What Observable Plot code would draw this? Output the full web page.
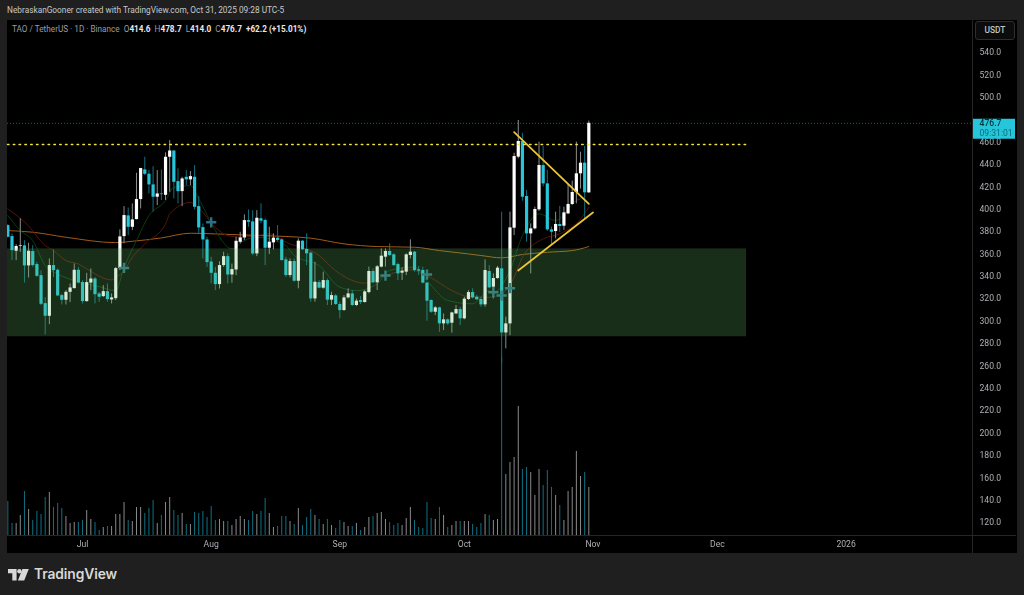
<!DOCTYPE html>
<html><head><meta charset="utf-8">
<script src="https://cdn.jsdelivr.net/npm/d3@7"></script>
<script src="https://cdn.jsdelivr.net/npm/@observablehq/plot@0.6"></script>
<style>
html,body{margin:0;padding:0;background:#1f1f1f;width:1024px;height:595px;overflow:hidden;font-family:Roboto,sans-serif}
#panel{position:absolute;left:7px;top:20px;width:1010px;height:533px;background:#000}
#chart{position:absolute;left:0;top:0;filter:blur(.35px)}
#credit{position:absolute;left:7px;top:4px;font-size:8.3px;line-height:12px;color:#c8c8c8;white-space:nowrap}
#legend{position:absolute;left:12px;top:23px;font-size:8.2px;line-height:12px;color:#9a9da5;white-space:nowrap}
#legend b{color:#e8e8e8;font-weight:700}
#unit{position:absolute;left:975px;top:21px;width:38px;height:17px;border:1px solid #2e2e2e;border-radius:3px;background:#0c0c0c;color:#c4c4c4;font-size:8.4px;font-weight:500;line-height:17px;text-align:center}
#brand{position:absolute;left:8px;top:566px;display:flex;align-items:center;gap:5px;color:#d9d9d9;font-family:Inter,sans-serif;font-size:13.8px;font-weight:600;letter-spacing:-.1px;line-height:17px}
</style></head><body>
<div id="panel"></div>
<div id="chart"></div>
<div id="credit">NebraskanGooner created with TradingView.com, Oct 31, 2025 09:28 UTC-5</div>
<div id="legend">TAO / TetherUS · 1D · Binance &nbsp;O<b>414.6</b> &nbsp;H<b>478.7</b> &nbsp;L<b>414.0</b> &nbsp;C<b>476.7</b> &nbsp;<b>+62.2 (+15.01%)</b></div>
<div id="unit">USDT</div>
<div id="brand"><svg width="21" height="12" viewBox="0 0 21 12"><path fill="#d9d9d9" d="M0 0h8.6v11.4H4.3V4.3H0zM14.4 0h6.4l-4.6 11.4H9.9z"/><circle fill="#d9d9d9" cx="11.4" cy="2.2" r="2.2"/></svg><span>TradingView</span></div>
<script>
const firstDay = "2025-06-13";
const opens = [385.3,375.5,362.4,366.6,367.2,349.3,362.1,350.5,340.6,315.6,304.3,349.6,345.4,322.8,318.6,325.7,329,345.4,334.4,317.4,334,337.6,324.2,321.9,326.3,318.9,320.1,346.9,375.5,394,383.8,390.7,408.6,435.1,431.2,421.7,410.7,413.6,412.4,446.4,452,424.6,415.7,428.5,426.2,428.5,402.3,383.5,372.5,352.8,342.7,332.6,349.6,357.6,341.2,345.7,370.4,374.3,389.8,388.6,360,391.4,389.9,365.1,369.9,374.1,372.6,354.7,340.7,353.2,335.6,371.4,364,360.7,319.8,334.4,329.4,336.2,318.7,322.5,314.8,309.4,320.7,324.3,313.9,318.4,316.6,325.5,344.3,334.2,348.2,357.1,362.2,359.2,350.5,342.8,343.7,358.6,361.6,345.8,345.2,333.9,318.4,307.9,311.8,297.5,301.1,298.1,306.4,310.3,302,319.3,325.5,321.3,319.3,314.5,344.3,330.3,338,346.7,289.4,297.5,383,446.5,460.5,411.3,377.9,382.4,399.4,439,422.6,381.5,380,386.3,384.8,395.8,404.2,414.9,431.6,441.1,414.6];
const highs = [386.2,377.9,368.3,391.3,371.9,369.5,367.4,352.5,345,321,355.5,363.6,346.6,324,327.2,333.2,351,348,336,342.7,346.6,339,325.7,331.7,333.2,324.2,348,381.5,402.3,401,404.7,432.1,436.5,446.4,434.5,438,434.5,435,450.3,461.3,452,436,428.5,434.5,433.6,439,411.2,386.8,374.9,357,348,353.1,361.5,360,351,374.9,379.4,394.9,399.3,398.7,398.7,404.8,391.4,383.9,378,385.4,373.5,357,355.6,355.6,373.5,372,378,361.6,352.6,336.2,343.7,337.7,325.8,323.7,316.9,322.8,328.8,327.3,319.8,321.9,327.3,348.2,346.7,349.6,364.5,364.5,369,360.1,351.7,347.6,360.1,372.6,362.2,348.8,348.2,334.7,319,313,312.4,306.4,302,307.9,313.9,312.4,321.3,327.3,328.8,322.8,321.3,354.7,349.6,342.2,348.8,397.3,303.5,397.3,450,479.3,467.9,416.7,386.9,401.8,459.9,456,434.6,384,397.3,402.4,401.8,422,425,459.9,450.9,456,478.7];
const lows = [374.3,354,354,361.5,334,338.5,348.1,339.1,313.8,287.6,296.8,339,321.9,314.4,314.4,316.5,328.7,333.2,315.3,316.8,327.2,315.3,316.8,321,316.8,315.3,318.3,345.1,369,376.4,380.9,390.4,400.2,430,413.6,397.3,403.2,407.7,407.7,415.1,409.2,404.7,402.3,421,421,399.3,377.9,355.5,348,333.2,327.2,328.7,348,333.2,333.8,340.6,369,371.9,383.8,358.5,357.6,386.9,349.6,359.5,363.7,370.5,353.5,339,338.6,334.7,328.8,363.1,349.6,316.9,316.9,328.8,328.5,313.9,313.9,313.9,302,308.8,319.8,313,313,314.8,316,324.3,333.3,327.3,347.6,348.2,357.7,348.7,336.2,336.2,340.7,355.6,343.7,340.7,333.3,299.9,307,304.9,290,291.5,296,289.2,305.8,296,301.1,318.4,319.8,318.4,312.4,312.4,328.8,319.8,337.4,262,275.2,287,376.4,445,407.1,370.5,342.2,381.5,398,420,380,367.5,373.5,379,381,395.2,403.3,404.8,418,391.3,414];
const closes = [374.9,363,366.6,367.2,349.3,362.4,349.6,340,315,304.3,349.6,345.1,322.5,318.6,325.7,329.6,345.4,334,317.4,334.4,337.6,323.6,321.3,326.3,319.2,320.7,346.9,375.2,394.3,383.8,390.4,408.6,436.3,431.2,421.7,410.7,413.6,413,446.4,452,424,415.7,427,426.2,429.1,401.7,383.2,372.5,352.3,342.7,332.6,349.6,357.6,341.2,346,371.3,374.3,389.8,388.3,360,391.9,389.3,365.1,370.5,374.1,372,354.1,340.7,353.2,335.6,371.4,363.7,360.1,319.8,334.7,329.4,336.2,318.7,322.8,314.8,309.4,320.7,324.3,313.9,317.8,316.6,326.1,344.3,334.2,348.5,358,362.2,358.6,349.6,342.2,344.6,359.2,361.6,345.2,344.6,333.9,317.8,307.9,311.8,297.5,301.1,297.5,307.3,310.3,302,319.6,325.5,320.7,319,314.5,345.2,329.7,338,347.3,289.4,297.5,383.3,447,460.5,410.7,377.9,382.4,399.7,439,422.6,381.5,379.4,386.3,384.5,396.7,404.2,414.9,431.6,441.1,414.6,476.7];
const volumes = [34,12,12,20,44,26,15,24,21,38,43,28,32,27,19,12,13,13,15,25,16,13,5,8,9,9,21,21,33,15,14,28,28,22,27,35,12,20,33,38,25,20,22,11,11,23,22,24,18,29,15,16,14,14,10,16,19,16,15,24,21,24,37,22,8,9,19,19,14,11,27,10,18,26,20,16,11,16,10,7,15,13,9,9,12,5,8,18,19,22,23,16,13,10,12,10,17,28,15,8,7,33,17,16,28,20,8,10,14,14,14,14,11,8,12,21,20,15,16,178,61,73,78,129,66,68,63,40,66,50,65,48,40,30,15,44,48,84,59,63,48];

const slowMaDays = [0,6,14,26,30,37,44,50,61,67,73,81,89,98,104,111,114,119,124,130,136,140];
const slowMaValues = [380.9,379.4,374.9,370.1,371.3,374.3,378.5,377.9,376.4,375.6,374.1,369,366.6,366,363,360,358.6,356.5,359.5,361.5,363,366.6];
const midMaDays = [0,5,9,11,14,17,19,25,26,28,30,33,38,39,44,46,50,53,56,60,63,67,75,79,86,91,97,102,107,111,116,119,122,124,129,133,138,140];
const midMaValues = [400.2,385,367.5,363,354,351,346.6,336.8,339,345,357,369,386.8,395.8,406,401,383.8,376.4,375,376.4,378,370.5,358.6,345,333.9,340.7,345.8,338.6,327.3,321.9,321.3,324.3,339.2,357,373.5,377.9,391.3,401.8];
const fastMaDays = [0,3,6,9,12,16,22,26,28,31,34,38,40,44,46,50,54,57,60,67,69,75,80,84,89,92,98,101,106,112,116,117,121,124,128,132,137,139];
const fastMaValues = [394.3,380.9,371.9,349.6,342.1,336.2,330.8,327.2,348,371.9,394.3,407.7,419.6,421,409.2,380.9,364.5,371.9,374.9,367.5,358.6,349.6,330.3,327.3,333.3,345.2,348.2,336.2,318.4,315.4,327.3,325.8,345.2,376.4,395.8,389.9,407.7,410.7];

const crossDays = [28,49,91,101,117,119,121];
const crossPrices = [347.5,388.3,340.7,341.6,325.8,322.8,329.4];

const zoneLow = 286, zoneHigh = 364.5, zoneEnd = "2025-12-08";
const resistance = 457.8;
const fallingDates = ["2025-10-13","2025-10-31"], fallingPrices = [468.8,404.8];
const risingDates = ["2025-10-14","2025-11-01"], risingPrices = [345.2,397];

const priceTicks = [120,140,160,180,200,220,240,260,280,300,320,340,360,380,400,420,440,460,500,520,540];
const monthTicks = ["2025-07-01","2025-08-01","2025-09-01","2025-10-01","2025-11-01","2025-12-01","2026-01-01"];
const monthLabels = ["Jul","Aug","Sep","Oct","Nov","Dec","2026"];

const start = new Date(firstDay + "T00:00Z");
const dayOf = i => d3.utcDay.offset(start, i);
const iso = s => new Date(s + "T00:00Z");
const candles = opens.map((o, i) => ({date: dayOf(i), open: o, high: highs[i], low: lows[i], close: closes[i], volume: volumes[i], up: closes[i] >= o}));
const series = (days, vals) => days.map((d, i) => ({date: dayOf(d), value: vals[i]}));

const yDomain = [108.4, 568.6];
const xDomain = [new Date("2025-06-12T22:00Z"), new Date("2026-01-31T11:00Z")];
const volumePrice = d3.scaleLinear([0, 200], [yDomain[0], yDomain[0] + 200 / 1.119]);
const lastClose = closes[closes.length - 1];
const axisGrey = "#aeb0b6", cyan = "#26c6da";
const labelOf = d => monthLabels[monthTicks.findIndex(m => +iso(m) === +d)];

const chart = Plot.plot({
  width: 1024, height: 595,
  marginLeft: 7, marginRight: 52, marginTop: 20, marginBottom: 60,
  style: {background: "transparent", fontFamily: "Roboto, sans-serif"},
  x: {type: "utc", domain: xDomain},
  y: {domain: yDomain},
  marks: [
    Plot.ruleY([lastClose], {stroke: "#14606e", strokeDasharray: "1,2"}),
    Plot.ruleX(candles, {x: "date", y1: yDomain[0], y2: d => volumePrice(d.volume), stroke: d => d.up ? "#8a8a8a" : "#0f7183", strokeWidth: 1, clip: true}),
    Plot.line(series(slowMaDays, slowMaValues), {x: "date", y: "value", stroke: "#a05a18", strokeWidth: 1, clip: true, curve: "monotone-x"}),
    Plot.line(series(midMaDays, midMaValues), {x: "date", y: "value", stroke: "#551408", strokeWidth: 1, clip: true, curve: "monotone-x"}),
    Plot.line(series(fastMaDays, fastMaValues), {x: "date", y: "value", stroke: "#0a3a12", strokeWidth: 1, clip: true, curve: "monotone-x"}),
    Plot.ruleX(candles, {x: "date", y1: "low", y2: "high", stroke: d => d.up ? "#8e8e8e" : "#10707f", strokeWidth: 1, clip: true}),
    Plot.ruleX(candles, {x: "date", y1: "open", y2: "close", stroke: d => d.up ? "#ffffff" : cyan, strokeWidth: 3.2, clip: true}),
    Plot.dot(crossDays.map((d, i) => ({date: dayOf(d), price: crossPrices[i]})), {x: "date", y: "price", symbol: "plus", r: 3.4, stroke: "#2a7088", strokeWidth: 2.4, fill: "none"}),
    Plot.rect([{}], {x1: () => xDomain[0], x2: () => iso(zoneEnd), y1: () => zoneLow, y2: () => zoneHigh, fill: "rgb(96,184,96)", fillOpacity: 0.25}),
    Plot.line([{date: xDomain[0]}, {date: iso(zoneEnd)}], {x: "date", y: () => resistance, stroke: "#f0e23c", strokeWidth: 1.5, strokeDasharray: "1.5,4.3"}),
    Plot.line(fallingDates.map((d, i) => ({date: iso(d), value: fallingPrices[i]})), {x: "date", y: "value", stroke: "#ecc530", strokeWidth: 1.8}),
    Plot.line(risingDates.map((d, i) => ({date: iso(d), value: risingPrices[i]})), {x: "date", y: "value", stroke: "#ecc530", strokeWidth: 1.8}),
    Plot.ruleX([xDomain[1]], {stroke: "#262626", insetTop: 0, insetBottom: -18}),
    Plot.ruleY([yDomain[0]], {stroke: "#262626", insetRight: -44}),
    Plot.axisY({anchor: "right", ticks: priceTicks, tickSize: 0, tickPadding: 7, tickFormat: d => d.toFixed(1), label: null, fill: axisGrey, fontSize: 8.6}),
    Plot.axisX({ticks: monthTicks.map(iso), tickSize: 0, tickPadding: 5, tickFormat: labelOf, label: null, fill: axisGrey, fontSize: 8.6}),
    Plot.ruleY([lastClose], {stroke: cyan, strokeWidth: 20, insetLeft: 966, insetRight: -43, dy: 5.3}),
    Plot.text([lastClose], {y: d => d, text: d => d.toFixed(1), frameAnchor: "right", textAnchor: "start", dx: 7, dy: 0, fill: "#06303a", fontSize: 8.6, fontWeight: 500}),
    Plot.text(["09:31:01"], {y: () => lastClose, text: d => d, frameAnchor: "right", textAnchor: "start", dx: 7, dy: 9.5, fill: "#0c6a7c", fontSize: 8.6})
  ]
});
document.getElementById("chart").appendChild(chart);
</script>
</body></html>
